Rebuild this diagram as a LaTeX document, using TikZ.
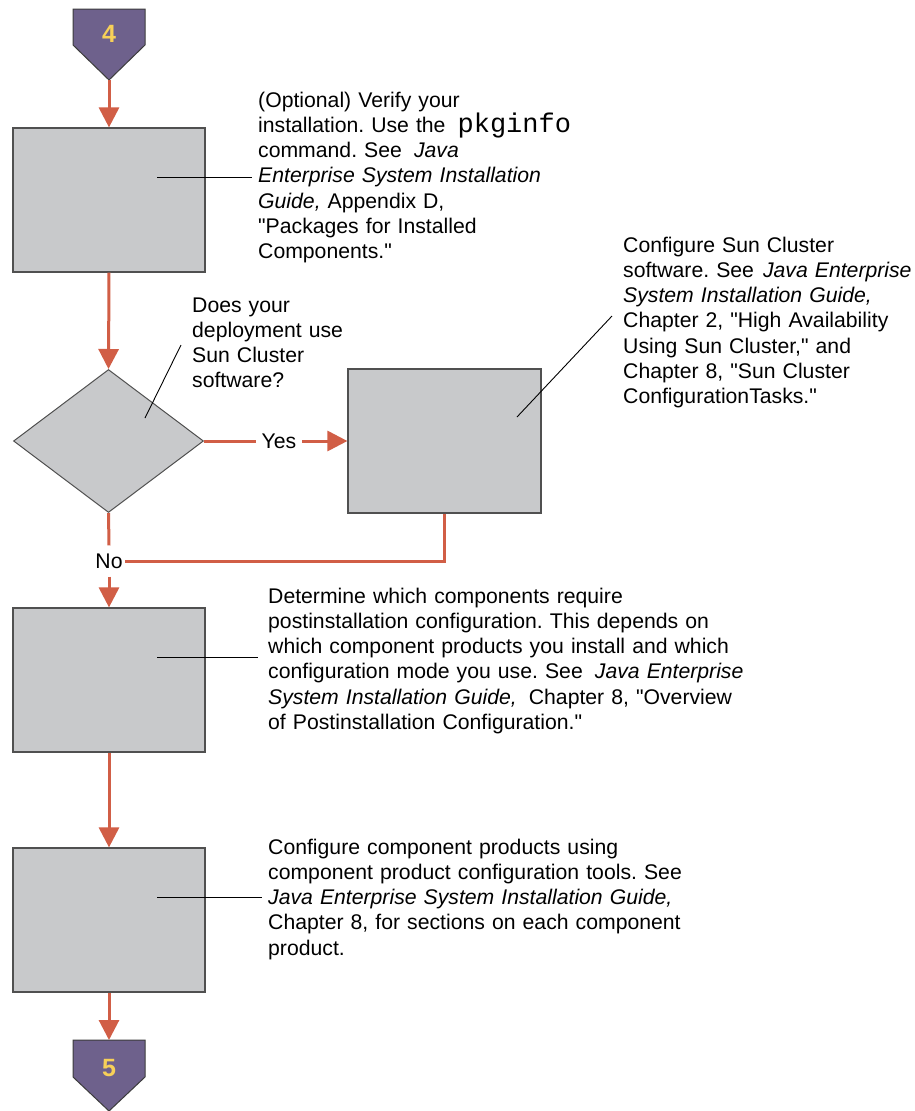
\documentclass[tikz,border=0pt]{standalone}
\usepackage{fontspec}
\setmainfont{Liberation Sans}[Ligatures=TeXOff]
\setmonofont{Liberation Mono}
\usetikzlibrary{arrows.meta,shapes.geometric,calc}
\definecolor{boxgray}{RGB}{200,201,203}
\definecolor{boxedge}{RGB}{80,80,80}
\definecolor{arrowred}{RGB}{209,94,70}
\definecolor{badgefill}{RGB}{110,97,140}
\definecolor{badgeedge}{RGB}{60,60,60}
\definecolor{badgetext}{RGB}{247,208,88}
\newcommand\notefont{\fontsize{21.2bp}{25.3bp}\selectfont\frenchspacing\hyphenpenalty=10000 }
\newcommand\badgefont{\fontsize{25bp}{28bp}\selectfont\bfseries}
\newcommand\cmdfont{\ttfamily\fontsize{27bp}{25.3bp}\selectfont}
\newcommand\gap{\ \hspace{5bp}}
\newcommand\smallgap{\ \hspace{2bp}}
\begin{document}
\begin{tikzpicture}[x=1bp,y=-1bp,
  box/.style={draw=boxedge,line width=1.2bp,fill=boxgray,minimum width=192bp,minimum height=144bp,inner sep=0pt},
  decision/.style={draw=boxedge,line width=1bp,fill=boxgray,shape=diamond,minimum width=190bp,minimum height=143bp,inner sep=0pt},
  flow/.style={draw=arrowred,line width=3bp},
  flowarrow/.style={flow,-{Triangle[width=20bp,length=20bp]}},
  leader/.style={draw=black,line width=0.9bp},
  note/.style={anchor=base west,inner sep=0pt,text width=500bp,align=left,font=\notefont},
  lbl/.style={font=\notefont,text height=15bp,text depth=0pt,inner xsep=6bp,inner ysep=8bp},
  badgeshape/.style={fill=badgefill,draw=badgeedge,line width=1bp},
  badgelabel/.style={font=\badgefont,text=badgetext,inner sep=0pt}
]
\useasboundingbox (0,0) rectangle (915,1111);
\fill[white] (0,0) rectangle (915,1111);

% badges
\path[badgeshape] (73,9) -- (145,9) -- (145,45) -- (109,80) -- (73,45) -- cycle;
\node[badgelabel] (b4) at (109,34) {4};
\coordinate (b4tip) at (109,80);
\path[badgeshape] (73,1040) -- (145,1040) -- (145,1077) -- (109,1111) -- (73,1077) -- cycle;
\node[badgelabel] (b5) at (109,1068) {5};
\coordinate (b5top) at (109,1040);

% boxes
\node[box] (box1) at (109,200) {};
\node[decision] (dia) at (108.5,441) {};
\node[box,minimum width=193bp] (box2) at (444.5,441) {};
\node[box] (box3) at (109,680) {};
\node[box] (box4) at (109,920) {};

% labels
\node[lbl] (yes) at (279,441) {Yes};
\node[lbl,inner xsep=2bp] (no) at (109,561) {No};

% connectors
\draw[flowarrow] (b4tip) -- (box1.north);
\draw[flowarrow] (box1.south) -- (dia.north);
\draw[flow] (dia.east) -- (yes.west);
\draw[flowarrow] (yes.east) -- (box2.west);
\draw[flow] (dia.south) -- (no.north);
\draw[flow] (box2.south) |- (no.east);
\draw[flowarrow] (no.south) -- (box3.north);
\draw[flowarrow] (box3.south) -- (box4.north);
\draw[flowarrow] (box4.south) -- (b5top);

% notes
\node[note] (t1) at (258,107) {(Optional) Verify your\\ installation. Use the\gap{\cmdfont pkginfo}\\ command. See\gap\textit{Java}\\ \textit{Enterprise System Installation}\\ \textit{Guide,} Appendix D,\\ "Packages for Installed\\ Components."};
\node[note] (t2) at (192,312) {Does your\\ deployment use\\ Sun Cluster\\ software?};
\node[note,text width=292bp] (t3) at (623,252) {Configure Sun Cluster\\ software. See\smallgap\textit{Java\ Enterprise}\\ \textit{System Installation Guide,}\\ Chapter 2, "High Availability\\ Using Sun Cluster," and\\ Chapter 8, "Sun Cluster\\ ConfigurationTasks."};
\node[note] (t4) at (268,603) {Determine which components require\\ postinstallation configuration. This depends on\\ which component products you install and which\\ configuration mode you use. See\gap\textit{Java Enterprise}\\ \textit{System Installation Guide,}\gap Chapter 8, "Overview\\ of Postinstallation Configuration."};
\node[note] (t5) at (268,854) {Configure component products using\\ component product configuration tools. See\\ \textit{Java Enterprise System Installation Guide,}\\ Chapter 8, for sections on each component\\ product.};

% leader lines
\coordinate (l1a) at (157,177); \coordinate (l1b) at (252,177);
\coordinate (l2a) at (145,418); \coordinate (l2b) at (181,345);
\coordinate (l3a) at (517,417); \coordinate (l3b) at (612,316);
\coordinate (l4a) at (157,657); \coordinate (l4b) at (258,657);
\coordinate (l5a) at (157,897); \coordinate (l5b) at (262,897);
\draw[leader] (l1a) -- (l1b);
\draw[leader] (l2a) -- (l2b);
\draw[leader] (l3a) -- (l3b);
\draw[leader] (l4a) -- (l4b);
\draw[leader] (l5a) -- (l5b);
\end{tikzpicture}
\end{document}
